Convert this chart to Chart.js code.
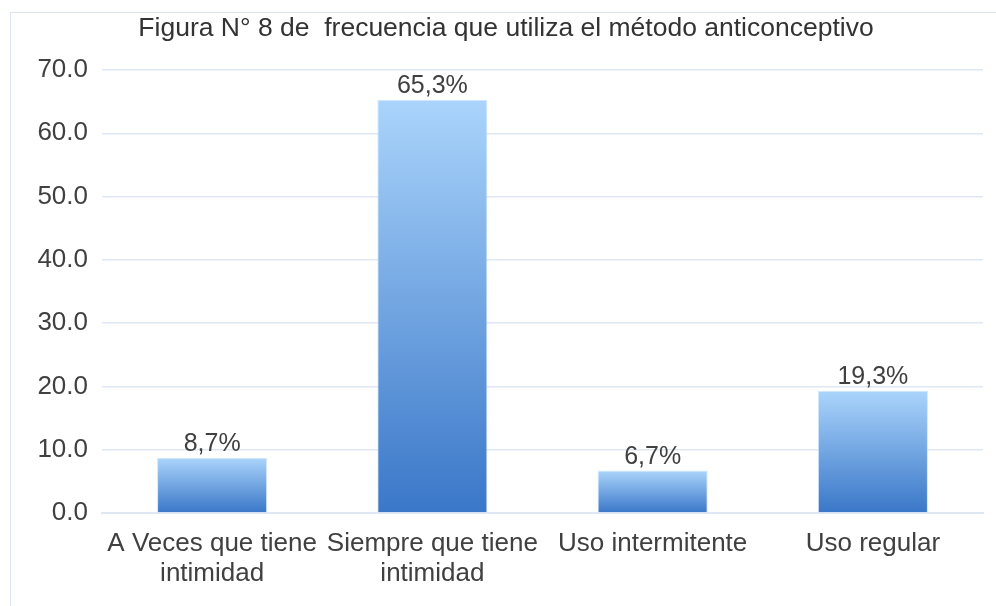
<!DOCTYPE html>
<html lang="es">
<head>
    <meta charset="UTF-8">
    <title>Figura N° 8</title>
    <script src="https://cdn.jsdelivr.net/npm/chart.js"></script>
</head>
<body style="margin:0; background:#fff;">
    <div style="position:relative; width:996px; height:606px; overflow:hidden;">
        <div style="position:absolute; left:10px; top:12px; width:1000px; height:620px; border:1px solid #dfe5ee;"></div>
        <canvas id="myChart" width="996" height="606" style="position:absolute; left:0; top:0;"></canvas>
    </div>
<script>
    // datos del gráfico
    const titulo = 'Figura N° 8 de  frecuencia que utiliza el método anticonceptivo';
    const categorias = [
        ['A Veces que tiene', 'intimidad'],
        ['Siempre que tiene', 'intimidad'],
        ['Uso intermitente'],
        ['Uso regular']
    ];
    const valores = [8.7, 65.3, 6.7, 19.3];
    const etiquetas = ['8,7%', '65,3%', '6,7%', '19,3%'];

    const fuente = '"Liberation Sans", Arial, sans-serif';

    // degradado por barra (claro arriba, oscuro abajo)
    function colorBarra(c) {
        const chart = c.chart;
        const y = chart.scales.y;
        if (!y || c.dataIndex === undefined) return '#5b93d8';
        const top = y.getPixelForValue(valores[c.dataIndex]);
        const base = y.getPixelForValue(0);
        if (!isFinite(top) || !isFinite(base) || top === base) return '#5b93d8';
        const g = chart.ctx.createLinearGradient(0, top, 0, base);
        g.addColorStop(0, '#aad4fb');
        g.addColorStop(1, '#3a77c8');
        return g;
    }

    const tituloPlugin = {
        id: 'tituloPlugin',
        beforeDraw(chart) {
            const ctx = chart.ctx;
            ctx.save();
            ctx.font = '26.5px ' + fuente;
            ctx.fillStyle = '#333333';
            ctx.textAlign = 'center';
            ctx.textBaseline = 'alphabetic';
            ctx.fillText(titulo, 506, 36);
            ctx.restore();
        }
    };

    const etiquetasPlugin = {
        id: 'etiquetasPlugin',
        afterDatasetsDraw(chart) {
            const ctx = chart.ctx;
            const meta = chart.getDatasetMeta(0);
            ctx.save();
            ctx.font = '25px ' + fuente;
            ctx.fillStyle = '#404040';
            ctx.textAlign = 'center';
            ctx.textBaseline = 'alphabetic';
            meta.data.forEach((bar, i) => {
                ctx.fillText(etiquetas[i], bar.x, bar.y - 7);
            });
            ctx.restore();
        }
    };

    const ctx = document.getElementById('myChart').getContext('2d');
    const myChart = new Chart(ctx, {
        type: 'bar',
        data: {
            labels: categorias,
            datasets: [{
                data: valores,
                backgroundColor: colorBarra,
                borderColor: 'rgba(205, 228, 252, 0.9)',
                borderWidth: 1,
                barPercentage: 0.5,
                categoryPercentage: 1.0
            }]
        },
        options: {
            responsive: false,
            animation: false,
            layout: { padding: { top: 70, right: 13, left: 0, bottom: 0 } },
            plugins: {
                legend: { display: false },
                tooltip: { enabled: false }
            },
            scales: {
                x: {
                    afterFit: s => { s.height = 93; },
                    grid: { display: false, drawTicks: false },
                    border: { color: '#dfe7f4', width: 2 },
                    ticks: {
                        color: '#404040',
                        padding: 16,
                        maxRotation: 0,
                        autoSkip: false,
                        font: { family: fuente, size: 26, lineHeight: 1.15 }
                    }
                },
                y: {
                    min: 0,
                    max: 70,
                    afterFit: s => { s.width = 102; },
                    grid: { color: '#dfe7f4', lineWidth: 1.5, drawTicks: false },
                    border: { display: false },
                    ticks: {
                        stepSize: 10,
                        color: '#404040',
                        padding: 14,
                        font: { family: fuente, size: 26 },
                        callback: v => v.toFixed(1)
                    }
                }
            }
        },
        plugins: [tituloPlugin, etiquetasPlugin]
    });
</script>
</body>
</html>
